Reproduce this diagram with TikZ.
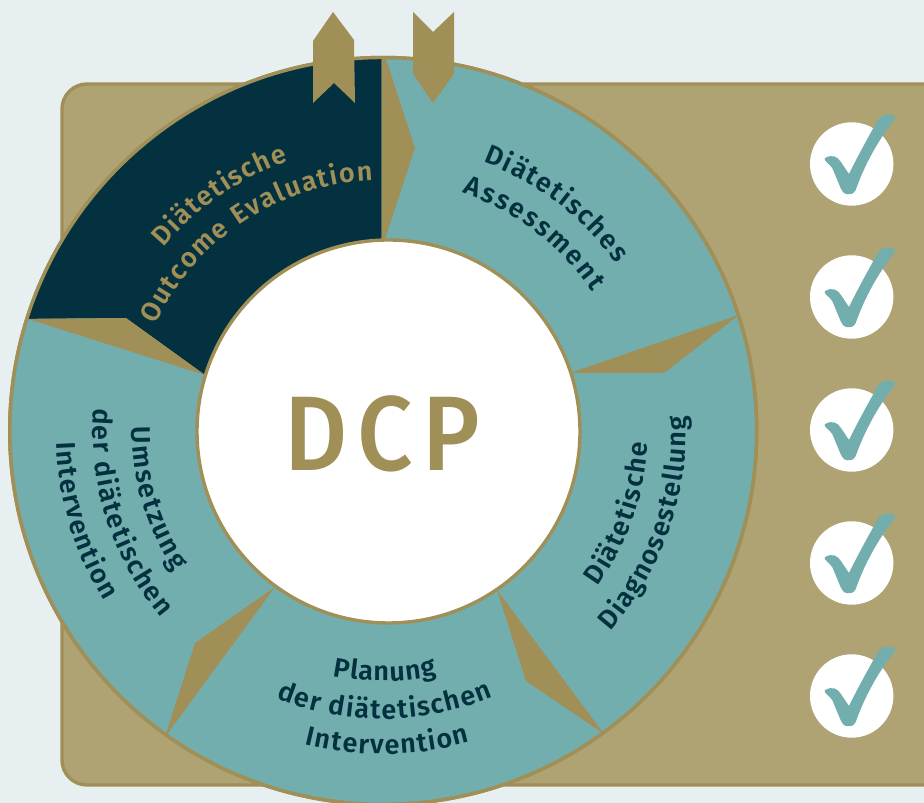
\documentclass[tikz,border=0pt]{standalone}
\usepackage{fontspec}
\usepackage{tikz}
\usetikzlibrary{decorations.text}
\newfontfamily\kurvenfont{Fira Sans SemiBold}
\newfontfamily\titelfont[LetterSpace=10]{Fira Sans Medium}
\newcommand{\kurvengroesse}{\kurvenfont\fontsize{27}{27}\selectfont}
\definecolor{hintergrund}{HTML}{E7EFF1}
\definecolor{sand}{HTML}{AFA373}
\definecolor{gold}{HTML}{A08F56}
\definecolor{petrol}{HTML}{03313F}
\definecolor{tuerkis}{HTML}{73AEAF}
\tikzset{
    %Define style for the ring
    ringrand/.style={
           draw=gold,
           line width=3.4pt,
           },
    wedge/.style={
           fill=gold,
           draw=none,
           },
    %Define style for curved labels
    kurve/.style={
           shift={(383,372)},
           decorate,
           decoration={
               text along path,
               text align={fit to path},
               text color=#1,
               },
           },
    %Define the tick on its disc
    haken/.pic={
           \fill[white] (0,0) circle (41.7);
           \fill[tuerkis] (-27,5.7) .. controls (-19.3,10.5) and (-14,7) .. (-11,2.3)
             -- (-2.7,-10) .. controls (3,2) and (18,30) .. (27.3,45.7)
             .. controls (31,50) and (38,51) .. (43.3,47.3)
             .. controls (44,46) and (43,45) .. (42.3,44)
             .. controls (30,28) and (15,5) .. (4,-26)
             .. controls (2,-30) and (-1,-30.5) .. (-4,-30.3)
             .. controls (-8,-30) and (-10,-27) .. (-11,-24.3)
             -- (-19.3,-4.3) .. controls (-22,0) and (-28,3) .. (-27,5.7) -- cycle;
           },
}
\begin{document}
\begin{tikzpicture}[x=1pt,y=1pt]
 \clip (0,0) rectangle (924,803);
 \fill[hintergrund] (0,0) rectangle (924,803);

 %panel
 \draw[ringrand,fill=sand,rounded corners=25pt] (62,18) rectangle (960,719);

 %ring
 \coordinate (mitte) at (383.2,372);
 \draw[ringrand,fill=tuerkis] (mitte) circle (373.5);
 \fill[petrol,shift={(383,372)}] (381.7-383,0) -- (90.2:373) arc (90.2:162.5:373)
    -- (126-383,485-372) -- (205-383,428-372) -- cycle;

 %wedges
 \fill[wedge] (381.7,744) -- (386,744) -- (415,655) -- (385,564) -- (381.7,564) -- cycle;
 \fill[wedge] (739,488) -- (664,430) -- (570,430) -- cycle;
 \fill[wedge] (604,69) -- (526,122) -- (497,213) -- cycle;
 \fill[wedge] (165,66) -- (195,160) -- (275,216) -- cycle;
 \fill[wedge] (28,484) -- (126,485) -- (205,428) -- cycle;

 \draw[ringrand] (mitte) circle (373.5);
 \draw[ringrand,fill=white] (388.5,371.5) circle (191.5);

 %ribbons
 \fill[gold] (313,762) -- (333,791) -- (354,763) -- (355,700) -- (334,720) -- (313,700) -- cycle;
 \fill[gold] (413,791) -- (433,771) -- (454,791) -- (454,729) -- (433,700) -- (413,729) -- cycle;

 %title
 \node[text=gold,font=\titelfont\fontsize{106}{106}\selectfont,inner sep=0pt,transform shape,xscale=.92] (titel) at (382,369) {DCP};

 %labels
 \path[kurve=petrol,decoration={text={|\kurvengroesse|Diätetisches}}] (69.6:287) arc (69.6:35.7:287);
 \path[kurve=petrol,decoration={text={|\kurvengroesse|Assessment}}] (71.6:251) arc (71.6:33.6:251);
 \path[kurve=gold,decoration={text={|\kurvengroesse|Diätetische}}] (140:286) arc (140:109.4:286);
 \path[kurve=gold,decoration={text={|\kurvengroesse|Outcome Evaluation}}] (154.9:251) arc (154.9:92.3:251);
 \path[kurve=petrol,decoration={text={|\kurvengroesse|Diätetische}}] (-36:265) arc (-36:-2.6:265);
 \path[kurve=petrol,decoration={text={|\kurvengroesse|Diagnosestellung}}] (-41.4:303) arc (-41.4:2.9:303);
 \path[kurve=petrol,decoration={text={|\kurvengroesse|Planung}}] (258.4:250) arc (258.4:282.4:250);
 \path[kurve=petrol,decoration={text={|\kurvengroesse|der diätetischen}}] (248.2:288) arc (248.2:292.5:288);
 \path[kurve=petrol,decoration={text={|\kurvengroesse|Intervention}}] (256:323) arc (256:285.6:323);
 \path[kurve=petrol,decoration={text={|\kurvengroesse|Umsetzung}}] (179:251) arc (179:214:251);
 \path[kurve=petrol,decoration={text={|\kurvengroesse|der diätetischen}}] (175.5:290) arc (175.5:220:290);
 \path[kurve=petrol,decoration={text={|\kurvengroesse|Intervention}}] (182:327) arc (182:211.4:327);

 %ticks
 \pic at (851.7,639) {haken};
 \pic at (851.7,506) {haken};
 \pic at (851.7,373) {haken};
 \pic at (851.7,240) {haken};
 \pic at (851.7,107) {haken};
\end{tikzpicture}
\end{document}
